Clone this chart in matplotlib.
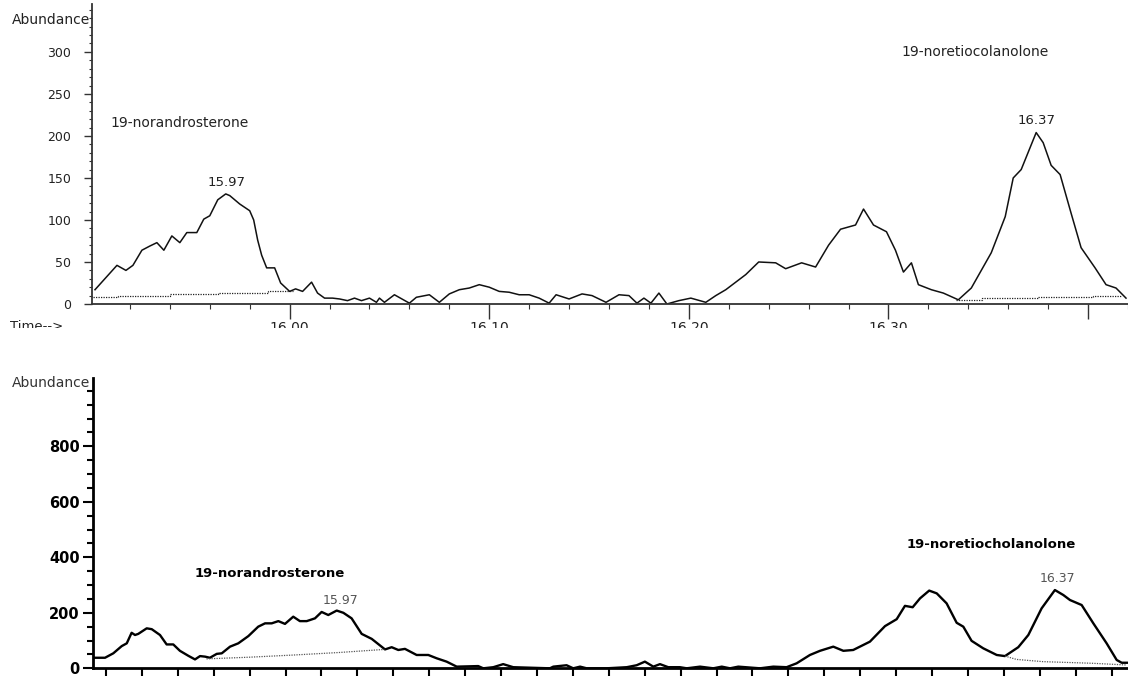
import numpy as np
import matplotlib
matplotlib.use("Agg")
import matplotlib.pyplot as plt
from matplotlib.patches import Rectangle

# ---- top chromatogram (abundance vs retention time, min)
top_time = [15.9025, 15.9135, 15.918, 15.9215, 15.926, 15.930, 15.9335, 15.937, 15.941, 15.945,
            15.9485, 15.9535, 15.957, 15.960, 15.964, 15.968, 15.970, 15.975, 15.980, 15.982,
            15.984, 15.986, 15.9885, 15.9925, 15.9955, 16.000, 16.003, 16.0065, 16.011, 16.014,
            16.0175, 16.0215, 16.025, 16.029, 16.0325, 16.036, 16.040, 16.0435, 16.045, 16.0475,
            16.0525, 16.060, 16.0635, 16.070, 16.075, 16.080, 16.085, 16.090, 16.095, 16.100,
            16.105, 16.110, 16.115, 16.120, 16.125, 16.130, 16.1335, 16.140, 16.1465, 16.1515,
            16.1585, 16.165, 16.170, 16.174, 16.1775, 16.181, 16.185, 16.189, 16.195, 16.201,
            16.2085, 16.2135, 16.2185, 16.2235, 16.2285, 16.235, 16.2435, 16.2485, 16.2565, 16.2635,
            16.270, 16.276, 16.2835, 16.2875, 16.2925, 16.299, 16.3035, 16.3075, 16.3115, 16.315,
            16.3215, 16.3275, 16.335, 16.3415, 16.3515, 16.3585, 16.3625, 16.3665, 16.374, 16.3775,
            16.3815, 16.386, 16.3915, 16.3965, 16.4035, 16.409, 16.414, 16.419]
top_abund = [17, 46, 40, 46, 64, 69, 73, 64, 81, 73,
             85, 85, 101, 105, 124, 131, 129, 119, 111, 100,
             76, 58, 43, 43, 25, 15, 18, 15, 26, 13,
             7, 7, 6, 4, 7, 4, 7, 2, 7, 2,
             11, 1, 8, 11, 2, 12, 17, 19, 23, 20,
             15, 14, 11, 11, 7, 1, 11, 6, 12, 10,
             2, 11, 10, 1, 7, 1, 13, 0, 4, 7,
             2, 10, 17, 26, 35, 50, 49, 42, 49, 44,
             70, 89, 94, 113, 94, 86, 64, 38, 49, 23,
             17, 13, 5, 19, 61, 104, 150, 160, 204, 192,
             165, 154, 108, 67, 43, 23, 19, 7]
top_base1_time = [15.9017, 15.9142, 15.940, 15.9642, 15.9892, 16.0017]
top_base1_abund = [8, 10, 12, 13, 15, 15]
top_base2_time = [16.334, 16.3467, 16.375, 16.4025, 16.4167]
top_base2_abund = [5, 7, 8, 10, 10]

# ---- bottom chromatogram
bot_time = [15.834, 15.8395, 15.8441, 15.8488, 15.8516, 15.8543, 15.8562, 15.858, 15.8627, 15.8655,
            15.8701, 15.8738, 15.8775, 15.8812, 15.8859, 15.8896, 15.8924, 15.8952, 15.8979, 15.9017,
            15.9045, 15.9091, 15.9137, 15.9193, 15.9248, 15.9286, 15.9323, 15.936, 15.9397, 15.9443,
            15.948, 15.9518, 15.9564, 15.9601, 15.9638, 15.9685, 15.9722, 15.9768, 15.9824, 15.988,
            15.9954, 15.9991, 16.0028, 16.0065, 16.013, 16.0195, 16.0242, 16.0297, 16.0353, 16.0473,
            16.0501, 16.0557, 16.0612, 16.0668, 16.0872, 16.0891, 16.0965, 16.1002, 16.104, 16.1077,
            16.1188, 16.130, 16.1355, 16.1401, 16.1448, 16.1485, 16.1531, 16.1596, 16.1634, 16.1708,
            16.1782, 16.1829, 16.1875, 16.1921, 16.2042, 16.2116, 16.219, 16.2246, 16.232, 16.2376,
            16.245, 16.2506, 16.2561, 16.2654, 16.2738, 16.2803, 16.2849, 16.2892, 16.2933, 16.2984,
            16.3026, 16.3081, 16.3137, 16.3174, 16.322, 16.3285, 16.336, 16.3406, 16.348, 16.3536,
            16.361, 16.3684, 16.3731, 16.3768, 16.3833, 16.3898, 16.3972, 16.4028, 16.4056, 16.4091]
bot_abund = [38, 38, 54, 80, 90, 128, 120, 124, 144, 141,
             120, 86, 86, 63, 45, 32, 44, 42, 38, 52,
             54, 78, 90, 116, 150, 162, 162, 170, 160, 186,
             170, 170, 180, 203, 192, 208, 200, 180, 124, 106,
             68, 76, 66, 70, 48, 48, 36, 24, 6, 8,
             0, 4, 15, 4, 0, 6, 11, 0, 6, 0,
             0, 4, 11, 24, 6, 15, 4, 4, 0, 6,
             0, 6, 0, 6, 0, 6, 4, 18, 48, 63,
             78, 63, 66, 96, 152, 177, 225, 220, 252, 280,
             270, 234, 164, 150, 99, 72, 48, 44, 76, 120,
             216, 282, 264, 246, 228, 162, 90, 30, 20, 20]
bot_base1_time = [15.896, 15.920, 15.945, 15.970, 15.995]
bot_base1_abund = [34, 40, 48, 57, 68]
bot_base2_time = [16.3406, 16.347, 16.3617, 16.3896, 16.408]
bot_base2_abund = [44, 32, 24, 18, 12]

fig = plt.figure(figsize=(11.28, 6.76), dpi=100)

##### TOP PANEL
ax1 = fig.add_axes([92 / 1128, 372 / 676, 1036 / 1128, 300 / 676])
ax1.set_xlim(15.901, 16.419)
ax1.set_ylim(0, 357)
ax1.plot(top_time, top_abund, color='#111111', lw=1.1)
ax1.plot(top_base1_time, top_base1_abund, color='#222222', lw=0.9, ls=(0, (1, 1)), drawstyle='steps-post')
ax1.plot(top_base2_time, top_base2_abund, color='#222222', lw=0.9, ls=(0, (1, 1)), drawstyle='steps-post')

for s in ['top', 'right']:
    ax1.spines[s].set_visible(False)
for s in ['left', 'bottom']:
    ax1.spines[s].set_linewidth(1.3)
    ax1.spines[s].set_color('#333333')
ax1.set_yticks(np.arange(0, 301, 50))
ax1.set_yticks(np.arange(0, 351, 10), minor=True)
ax1.set_xticks([16.0, 16.1, 16.2, 16.3, 16.4])
ax1.set_xticklabels(['16.00', '16.10', '16.20', '16.30', ''])
ax1.set_xticks(np.arange(15.92, 16.42, 0.02), minor=True)
ax1.tick_params(axis='y', which='major', length=6, width=1.0, color='#333333', labelsize=9, pad=9, labelcolor='#222222')
ax1.tick_params(axis='y', which='minor', length=2.5, width=0.8, color='#333333')
ax1.tick_params(axis='x', which='major', length=11, width=1.0, color='#333333', labelsize=10, pad=1, labelcolor='#222222')
ax1.tick_params(axis='x', which='minor', length=3.5, width=0.8, color='#333333')

ax1.text(-0.002, 0.947, 'Abundance', transform=ax1.transAxes, ha='right', va='center', fontsize=10, color='#222222')
ax1.text(15.91, 215, '19-norandrosterone', ha='left', va='center', fontsize=10, color='#222222')
ax1.text(15.9685, 145, '15.97', ha='center', va='center', fontsize=9.5, color='#222222')
ax1.text(16.3065, 300, '19-noretiocolanolone', ha='left', va='center', fontsize=10, color='#222222')
ax1.text(16.374, 218, '16.37', ha='center', va='center', fontsize=9.5, color='#222222')
fig.text(10 / 1128, (676 - 326) / 676, 'Time-->', ha='left', va='center', fontsize=9.5, color='#222222')

##### BOTTOM PANEL
ax2 = fig.add_axes([93 / 1128, 7.7 / 676, 1035 / 1128, 290.3 / 676])
ax2.set_xlim(15.8328, 16.4091)
ax2.set_ylim(0, 1046)
ax2.plot(bot_time, bot_abund, color='black', lw=1.7)
ax2.plot(bot_base1_time, bot_base1_abund, color='#555555', lw=0.9, ls=(0, (1, 1)))
ax2.plot(bot_base2_time, bot_base2_abund, color='#555555', lw=0.9, ls=(0, (1, 1)))

for s in ['top', 'right']:
    ax2.spines[s].set_visible(False)
for s in ['left', 'bottom']:
    ax2.spines[s].set_linewidth(2.0)
ax2.set_yticks(np.arange(0, 801, 200))
ax2.set_yticks(np.arange(0, 1001, 50), minor=True)
ax2.set_xticks([15.90, 16.10, 16.30])
ax2.set_xticklabels([])
ax2.set_xticks(np.arange(15.84, 16.41, 0.02), minor=True)
ax2.tick_params(axis='y', which='major', length=7.5, width=1.5, labelsize=10.5, pad=2)
ax2.tick_params(axis='y', which='minor', length=4.5, width=1.5)
ax2.tick_params(axis='x', which='major', length=7, width=1.5)
ax2.tick_params(axis='x', which='minor', length=6, width=1.5)
for lab in ax2.get_yticklabels():
    lab.set_fontweight('bold')

ax2.text(-0.003, 0.983, 'Abundance', transform=ax2.transAxes, ha='right', va='center', fontsize=10, color='#333333')
ax2.text(15.8896, 343, '19-norandrosterone', ha='left', va='center', fontsize=9.5, fontweight='bold')
ax2.text(15.9709, 246, '15.97', ha='center', va='center', fontsize=9, color='#555555')
ax2.text(16.286, 445, '19-noretiocholanolone', ha='left', va='center', fontsize=9.5, fontweight='bold')
ax2.text(16.37, 322, '16.37', ha='center', va='center', fontsize=9, color='#555555')

# the original picture is cut between the two panels
fig.add_artist(Rectangle((0, (676 - 368) / 676), 1, 40 / 676, transform=fig.transFigure,
                         facecolor='white', edgecolor='none', zorder=10))

fig.savefig('out.png', dpi=100)
